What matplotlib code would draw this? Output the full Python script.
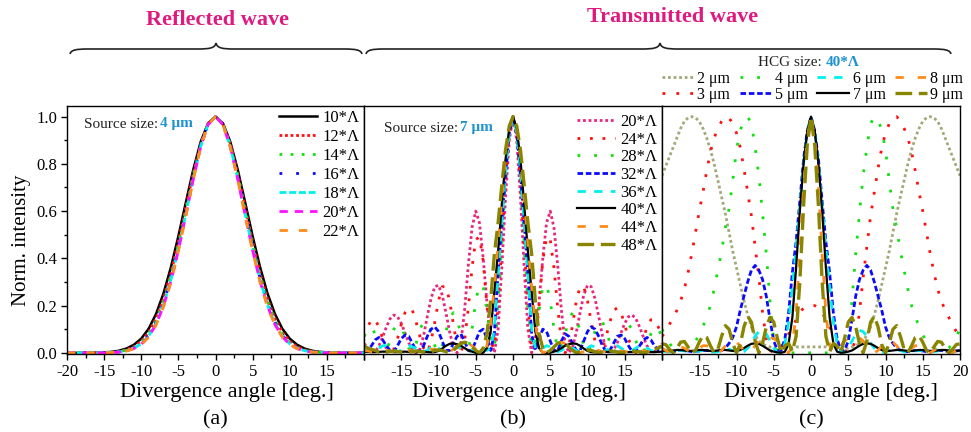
import matplotlib.pyplot as plt
import numpy as np
from matplotlib.path import Path
from matplotlib.patches import PathPatch
from matplotlib.ticker import MultipleLocator

plt.rcParams['font.family'] = ['Liberation Serif', 'DejaVu Serif']

# ---------------- data ----------------
# panel (a): reflected wave, source size 4 um, step 1 deg
angle_a = np.arange(-20, 21, 1)
a_10 = [0.0, 0.0, 0.0, 0.0, 0.001, 0.002, 0.004, 0.009, 0.018, 0.034, 0.06, 0.102, 0.165, 0.252, 0.363, 0.494, 0.636, 0.775, 0.893, 0.972,
        1.0, 0.972, 0.893, 0.775, 0.636, 0.494, 0.363, 0.252, 0.165, 0.102, 0.06, 0.034, 0.018, 0.009, 0.004, 0.002, 0.001, 0.0, 0.0, 0.0, 0.0]
a_12 = [0.0, 0.0, 0.0, 0.0, 0.0, 0.001, 0.003, 0.006, 0.013, 0.026, 0.049, 0.087, 0.146, 0.229, 0.338, 0.47, 0.615, 0.76, 0.885, 0.97,
        1.0, 0.97, 0.885, 0.76, 0.615, 0.47, 0.338, 0.229, 0.146, 0.087, 0.049, 0.026, 0.013, 0.006, 0.003, 0.001, 0.0, 0.0, 0.0, 0.0, 0.0]
a_14 = [0.0, 0.0, 0.0, 0.0, 0.0, 0.001, 0.002, 0.005, 0.011, 0.022, 0.043, 0.079, 0.135, 0.217, 0.325, 0.456, 0.602, 0.75, 0.88, 0.969,
        1.0, 0.969, 0.88, 0.75, 0.602, 0.456, 0.325, 0.217, 0.135, 0.079, 0.043, 0.022, 0.011, 0.005, 0.002, 0.001, 0.0, 0.0, 0.0, 0.0, 0.0]
a_16 = [0.0, 0.0, 0.0, 0.0, 0.0, 0.001, 0.002, 0.004, 0.009, 0.02, 0.04, 0.074, 0.129, 0.209, 0.316, 0.447, 0.594, 0.744, 0.877, 0.968,
        1.0, 0.968, 0.877, 0.744, 0.594, 0.447, 0.316, 0.209, 0.129, 0.074, 0.04, 0.02, 0.009, 0.004, 0.002, 0.001, 0.0, 0.0, 0.0, 0.0, 0.0]
a_18 = [0.0, 0.0, 0.0, 0.0, 0.0, 0.001, 0.002, 0.004, 0.009, 0.019, 0.038, 0.071, 0.124, 0.203, 0.309, 0.44, 0.587, 0.738, 0.874, 0.967,
        1.0, 0.967, 0.874, 0.738, 0.587, 0.44, 0.309, 0.203, 0.124, 0.071, 0.038, 0.019, 0.009, 0.004, 0.002, 0.001, 0.0, 0.0, 0.0, 0.0, 0.0]
a_20 = [0.0, 0.0, 0.0, 0.0, 0.0, 0.0, 0.001, 0.003, 0.008, 0.018, 0.036, 0.068, 0.12, 0.198, 0.303, 0.434, 0.582, 0.734, 0.872, 0.966,
        1.0, 0.966, 0.872, 0.734, 0.582, 0.434, 0.303, 0.198, 0.12, 0.068, 0.036, 0.018, 0.008, 0.003, 0.001, 0.0, 0.0, 0.0, 0.0, 0.0, 0.0]
a_22 = [0.0, 0.0, 0.0, 0.0, 0.0, 0.0, 0.001, 0.003, 0.008, 0.017, 0.035, 0.066, 0.118, 0.195, 0.299, 0.43, 0.578, 0.731, 0.87, 0.966,
        1.0, 0.966, 0.87, 0.731, 0.578, 0.43, 0.299, 0.195, 0.118, 0.066, 0.035, 0.017, 0.008, 0.003, 0.001, 0.0, 0.0, 0.0, 0.0, 0.0, 0.0]
labels_a = ['10*Λ', '12*Λ', '14*Λ', '16*Λ', '18*Λ', '20*Λ', '22*Λ']

# panels (b) and (c): step 0.5 deg
angle_bc = np.linspace(-20, 20, 81)

# panel (b): transmitted wave, source size 7 um, HCG sizes
b_20 = [0.04, 0.02, 0.005, 0.004, 0.029, 0.067, 0.109, 0.144, 0.16, 0.153, 0.125, 0.085, 0.043, 0.011, 0.0, 0.015, 0.073, 0.155, 0.23, 0.28,
        0.286, 0.245, 0.17, 0.087, 0.024, 0.0, 0.04, 0.18, 0.37, 0.53, 0.6, 0.55, 0.40, 0.215, 0.06, 0.0, 0.1, 0.36, 0.66, 0.9,
        1.0, 0.9, 0.66, 0.36, 0.1, 0.0, 0.06, 0.215, 0.40, 0.55, 0.6, 0.53, 0.37, 0.18, 0.04, 0.0, 0.024, 0.087, 0.17, 0.245,
        0.286, 0.28, 0.23, 0.155, 0.073, 0.015, 0.0, 0.011, 0.043, 0.085, 0.125, 0.153, 0.16, 0.144, 0.109, 0.067, 0.029, 0.004, 0.005, 0.02, 0.04]
b_24 = [0.07, 0.11, 0.14, 0.14, 0.11, 0.06, 0.02, 0.0, 0.015, 0.06, 0.12, 0.17, 0.19, 0.18, 0.13, 0.07, 0.02, 0.0, 0.05, 0.13,
        0.22, 0.28, 0.28, 0.22, 0.12, 0.03, 0.0, 0.05, 0.19, 0.36, 0.48, 0.49, 0.39, 0.2, 0.04, 0.02, 0.2, 0.46, 0.72, 0.92,
        1.0, 0.92, 0.72, 0.46, 0.2, 0.02, 0.04, 0.2, 0.39, 0.49, 0.48, 0.36, 0.19, 0.05, 0.0, 0.03, 0.12, 0.22, 0.28, 0.28,
        0.22, 0.13, 0.05, 0.0, 0.02, 0.07, 0.13, 0.18, 0.19, 0.17, 0.12, 0.06, 0.015, 0.0, 0.02, 0.06, 0.11, 0.14, 0.14, 0.11, 0.07]
b_28 = [0.07, 0.1, 0.11, 0.08, 0.04, 0.0, 0.01, 0.05, 0.1, 0.12, 0.11, 0.07, 0.02, 0.0, 0.04, 0.1, 0.13, 0.13, 0.09, 0.03,
        0.0, 0.03, 0.09, 0.15, 0.17, 0.14, 0.08, 0.02, 0.01, 0.1, 0.22, 0.29, 0.28, 0.18, 0.05, 0.02, 0.22, 0.48, 0.74, 0.93,
        1.0, 0.93, 0.74, 0.48, 0.22, 0.02, 0.05, 0.18, 0.28, 0.29, 0.22, 0.1, 0.01, 0.02, 0.08, 0.14, 0.17, 0.15, 0.09, 0.03,
        0.0, 0.03, 0.09, 0.13, 0.13, 0.1, 0.04, 0.0, 0.02, 0.07, 0.11, 0.12, 0.1, 0.05, 0.01, 0.0, 0.04, 0.08, 0.11, 0.1, 0.07]
b_32 = [0.005, 0.01, 0.03, 0.055, 0.065, 0.055, 0.03, 0.01, 0.005, 0.03, 0.06, 0.075, 0.07, 0.04, 0.01, 0.005, 0.03, 0.07, 0.1, 0.11,
        0.09, 0.05, 0.01, 0.01, 0.04, 0.07, 0.08, 0.05, 0.01, 0.01, 0.05, 0.09, 0.1, 0.06, 0.01, 0.08, 0.34, 0.55, 0.76, 0.93,
        1.0, 0.93, 0.76, 0.55, 0.34, 0.08, 0.01, 0.06, 0.1, 0.09, 0.05, 0.01, 0.01, 0.05, 0.08, 0.07, 0.04, 0.01, 0.01, 0.05,
        0.09, 0.11, 0.1, 0.07, 0.03, 0.005, 0.01, 0.04, 0.07, 0.075, 0.06, 0.03, 0.005, 0.01, 0.03, 0.055, 0.065, 0.055, 0.03, 0.01, 0.005]
b_36 = [0.02, 0.01, 0.005, 0.01, 0.02, 0.03, 0.03, 0.02, 0.01, 0.005, 0.01, 0.02, 0.03, 0.025, 0.02, 0.01, 0.005, 0.01, 0.025, 0.03,
        0.02, 0.01, 0.005, 0.01, 0.02, 0.025, 0.02, 0.01, 0.005, 0.01, 0.025, 0.03, 0.02, 0.01, 0.02, 0.1, 0.33, 0.55, 0.77, 0.93,
        1.0, 0.93, 0.77, 0.55, 0.33, 0.1, 0.02, 0.01, 0.02, 0.03, 0.025, 0.01, 0.005, 0.01, 0.02, 0.025, 0.02, 0.01, 0.005, 0.01,
        0.02, 0.03, 0.025, 0.01, 0.005, 0.01, 0.02, 0.025, 0.03, 0.02, 0.01, 0.005, 0.01, 0.02, 0.03, 0.03, 0.02, 0.01, 0.005, 0.01, 0.02]
b_40 = [0.005, 0.004, 0.003, 0.003, 0.004, 0.005, 0.005, 0.004, 0.003, 0.003, 0.004, 0.005, 0.004, 0.003, 0.003, 0.004, 0.004, 0.003, 0.002, 0.003,
        0.008, 0.018, 0.03, 0.038, 0.04, 0.036, 0.03, 0.02, 0.01, 0.005, 0.0, 0.0, 0.0, 0.02, 0.09, 0.26, 0.43, 0.63, 0.82, 0.95,
        1.0, 0.95, 0.82, 0.63, 0.43, 0.26, 0.09, 0.02, 0.0, 0.0, 0.0, 0.005, 0.01, 0.02, 0.03, 0.036, 0.04, 0.038, 0.03, 0.018,
        0.008, 0.003, 0.002, 0.003, 0.004, 0.004, 0.003, 0.003, 0.004, 0.005, 0.004, 0.003, 0.003, 0.004, 0.005, 0.005, 0.004, 0.003, 0.003, 0.004, 0.005]
b_44 = [0.01, 0.008, 0.005, 0.003, 0.005, 0.008, 0.01, 0.008, 0.005, 0.003, 0.005, 0.008, 0.01, 0.008, 0.005, 0.003, 0.005, 0.01, 0.015, 0.015,
        0.01, 0.005, 0.0, 0.005, 0.015, 0.03, 0.04, 0.045, 0.04, 0.03, 0.015, 0.005, 0.0, 0.03, 0.12, 0.28, 0.46, 0.65, 0.83, 0.95,
        1.0, 0.95, 0.83, 0.65, 0.46, 0.28, 0.12, 0.03, 0.0, 0.005, 0.015, 0.03, 0.04, 0.045, 0.04, 0.03, 0.015, 0.005, 0.0, 0.005,
        0.01, 0.015, 0.015, 0.01, 0.005, 0.003, 0.005, 0.008, 0.01, 0.008, 0.005, 0.003, 0.005, 0.008, 0.01, 0.008, 0.005, 0.003, 0.005, 0.008, 0.01]
b_48 = [0.03, 0.02, 0.015, 0.01, 0.003, 0.0, 0.003, 0.006, 0.008, 0.006, 0.003, 0.0, 0.003, 0.006, 0.008, 0.006, 0.003, 0.0, 0.005, 0.01,
        0.012, 0.01, 0.005, 0.0, 0.01, 0.025, 0.04, 0.045, 0.04, 0.025, 0.01, 0.0, 0.02, 0.08, 0.22, 0.42, 0.55, 0.71, 0.86, 0.96,
        1.0, 0.96, 0.86, 0.71, 0.55, 0.42, 0.22, 0.08, 0.02, 0.0, 0.01, 0.025, 0.04, 0.045, 0.04, 0.025, 0.01, 0.0, 0.005, 0.01,
        0.012, 0.01, 0.005, 0.0, 0.003, 0.006, 0.008, 0.006, 0.003, 0.0, 0.003, 0.006, 0.008, 0.006, 0.003, 0.0, 0.003, 0.01, 0.015, 0.02, 0.03]
labels_b = ['20*Λ', '24*Λ', '28*Λ', '32*Λ', '36*Λ', '40*Λ', '44*Λ', '48*Λ']

# panel (c): HCG size 40*Λ, source sizes
c_2 = [0.75, 0.79, 0.83, 0.87, 0.91, 0.95, 0.98, 0.995, 1.0, 0.995, 0.98, 0.95, 0.91, 0.86, 0.8, 0.73, 0.66, 0.59, 0.51, 0.43,
       0.36, 0.29, 0.22, 0.16, 0.11, 0.075, 0.05, 0.038, 0.03, 0.025, 0.02, 0.017, 0.017, 0.018, 0.02, 0.022, 0.025, 0.025, 0.025, 0.025,
       0.025, 0.025, 0.025, 0.025, 0.025, 0.022, 0.02, 0.018, 0.017, 0.017, 0.02, 0.025, 0.03, 0.038, 0.05, 0.075, 0.11, 0.16, 0.22, 0.29,
       0.36, 0.43, 0.51, 0.59, 0.66, 0.73, 0.8, 0.86, 0.91, 0.95, 0.98, 0.995, 1.0, 0.995, 0.98, 0.95, 0.91, 0.87, 0.83, 0.79, 0.75]
c_3 = [0.07, 0.09, 0.12, 0.15, 0.18, 0.22, 0.27, 0.34, 0.42, 0.51, 0.6, 0.68, 0.77, 0.85, 0.91, 0.95, 0.98, 1.0, 0.995, 0.97,
       0.93, 0.87, 0.78, 0.68, 0.58, 0.45, 0.32, 0.17, 0.06, 0.01, 0.0, 0.01, 0.025, 0.05, 0.08, 0.11, 0.14, 0.17, 0.19, 0.2,
       0.2, 0.2, 0.19, 0.17, 0.14, 0.11, 0.08, 0.05, 0.025, 0.01, 0.0, 0.01, 0.06, 0.17, 0.32, 0.45, 0.58, 0.68, 0.78, 0.87,
       0.93, 0.97, 0.995, 1.0, 0.98, 0.95, 0.91, 0.85, 0.77, 0.68, 0.6, 0.51, 0.42, 0.34, 0.27, 0.22, 0.18, 0.15, 0.12, 0.09, 0.07]
c_4 = [0.1, 0.07, 0.04, 0.02, 0.01, 0.005, 0.01, 0.02, 0.03, 0.05, 0.075, 0.11, 0.155, 0.2, 0.27, 0.35, 0.43, 0.53, 0.61, 0.73,
       0.86, 0.94, 0.99, 1.0, 0.97, 0.87, 0.75, 0.59, 0.42, 0.22, 0.05, 0.01, 0.0, 0.0, 0.0, 0.0, 0.0, 0.0, 0.0, 0.0,
       0.0, 0.0, 0.0, 0.0, 0.0, 0.0, 0.0, 0.0, 0.0, 0.01, 0.05, 0.22, 0.42, 0.59, 0.75, 0.87, 0.97, 1.0, 0.99, 0.94,
       0.86, 0.73, 0.61, 0.53, 0.43, 0.35, 0.27, 0.2, 0.155, 0.11, 0.075, 0.05, 0.03, 0.02, 0.01, 0.005, 0.01, 0.02, 0.04, 0.07, 0.1]
c_5 = [0.01, 0.008, 0.005, 0.005, 0.008, 0.01, 0.01, 0.008, 0.005, 0.005, 0.008, 0.01, 0.01, 0.008, 0.005, 0.005, 0.01, 0.02, 0.04, 0.065,
       0.11, 0.18, 0.24, 0.3, 0.35, 0.37, 0.35, 0.31, 0.24, 0.14, 0.05, 0.01, 0.01, 0.06, 0.17, 0.34, 0.47, 0.64, 0.82, 0.94,
       1.0, 0.94, 0.82, 0.64, 0.47, 0.34, 0.17, 0.06, 0.01, 0.01, 0.05, 0.14, 0.24, 0.31, 0.35, 0.37, 0.35, 0.3, 0.24, 0.18,
       0.11, 0.065, 0.04, 0.02, 0.01, 0.005, 0.005, 0.008, 0.01, 0.01, 0.008, 0.005, 0.005, 0.008, 0.01, 0.01, 0.008, 0.005, 0.005, 0.008, 0.01]
c_6 = [0.008, 0.005, 0.003, 0.005, 0.008, 0.01, 0.008, 0.005, 0.003, 0.005, 0.008, 0.01, 0.008, 0.005, 0.003, 0.005, 0.01, 0.015, 0.015, 0.01,
       0.005, 0.0, 0.005, 0.02, 0.04, 0.07, 0.09, 0.095, 0.08, 0.05, 0.02, 0.0, 0.005, 0.04, 0.13, 0.28, 0.44, 0.62, 0.8, 0.94,
       1.0, 0.94, 0.8, 0.62, 0.44, 0.28, 0.13, 0.04, 0.005, 0.0, 0.02, 0.05, 0.08, 0.095, 0.09, 0.07, 0.04, 0.02, 0.005, 0.0,
       0.005, 0.01, 0.015, 0.015, 0.01, 0.005, 0.003, 0.005, 0.008, 0.01, 0.008, 0.005, 0.003, 0.005, 0.008, 0.01, 0.008, 0.005, 0.003, 0.005, 0.008]
c_7 = [0.01, 0.008, 0.008, 0.01, 0.012, 0.012, 0.01, 0.008, 0.008, 0.01, 0.012, 0.012, 0.01, 0.008, 0.008, 0.01, 0.012, 0.012, 0.01, 0.008,
       0.008, 0.012, 0.02, 0.03, 0.038, 0.04, 0.038, 0.03, 0.02, 0.01, 0.005, 0.002, 0.0, 0.005, 0.04, 0.15, 0.36, 0.6, 0.8, 0.94,
       1.0, 0.94, 0.8, 0.6, 0.36, 0.15, 0.04, 0.005, 0.0, 0.002, 0.005, 0.01, 0.02, 0.03, 0.038, 0.04, 0.038, 0.03, 0.02, 0.012,
       0.008, 0.008, 0.01, 0.012, 0.012, 0.01, 0.008, 0.008, 0.01, 0.012, 0.012, 0.01, 0.008, 0.008, 0.01, 0.012, 0.012, 0.01, 0.008, 0.008, 0.01]
c_8 = [0.02, 0.01, 0.0, 0.01, 0.02, 0.025, 0.02, 0.01, 0.0, 0.01, 0.02, 0.03, 0.03, 0.02, 0.01, 0.0, 0.01, 0.03, 0.045, 0.05,
       0.045, 0.03, 0.01, 0.0, 0.01, 0.03, 0.05, 0.065, 0.07, 0.065, 0.06, 0.05, 0.03, 0.01, 0.0, 0.03, 0.17, 0.42, 0.7, 0.91,
       1.0, 0.91, 0.7, 0.42, 0.17, 0.03, 0.0, 0.01, 0.03, 0.05, 0.06, 0.065, 0.07, 0.065, 0.05, 0.03, 0.01, 0.0, 0.01, 0.03,
       0.045, 0.05, 0.045, 0.03, 0.01, 0.0, 0.01, 0.02, 0.03, 0.03, 0.02, 0.01, 0.0, 0.01, 0.02, 0.025, 0.02, 0.01, 0.0, 0.01, 0.02]
c_9 = [0.038, 0.035, 0.015, 0.0, 0.02, 0.045, 0.048, 0.025, 0.0, 0.01, 0.045, 0.073, 0.065, 0.03, 0.0, 0.015, 0.07, 0.115, 0.1, 0.04,
       0.0, 0.035, 0.11, 0.155, 0.13, 0.05, 0.0, 0.04, 0.11, 0.15, 0.13, 0.06, 0.0, 0.03, 0.04, 0.005, 0.07, 0.3, 0.62, 0.88,
       1.0, 0.88, 0.62, 0.3, 0.07, 0.005, 0.04, 0.03, 0.0, 0.06, 0.13, 0.15, 0.11, 0.04, 0.0, 0.05, 0.13, 0.155, 0.11, 0.035,
       0.0, 0.04, 0.1, 0.115, 0.07, 0.015, 0.0, 0.03, 0.065, 0.073, 0.045, 0.01, 0.0, 0.025, 0.048, 0.045, 0.02, 0.0, 0.015, 0.035, 0.038]
labels_c = ['2 μm', '3 μm', '4 μm', '5 μm', '6 μm', '7 μm', '8 μm', '9 μm']

# ---------------- styles ----------------
RED, GREEN, BLUE, CYAN = '#ff1010', '#10e010', '#0a0aff', '#00f0f0'
ORANGE, OLIVE, BLACK = '#ff8c1a', '#8a8500', '#000000'
PINK, MAGENTA, KHAKI = '#e8267e', '#ff10ff', '#a3a878'
HEAD = '#e0197e'
ACCENT = '#1e92d0'

styles_a = [(BLACK, '-', 1.8), (RED, (0, (1, 1)), 2.0), (GREEN, (0, (1, 3)), 2.0),
            (BLUE, (0, (1, 5)), 2.0), (CYAN, (0, (2.5, 1)), 2.0),
            (MAGENTA, (0, (3, 2.5)), 2.0), (ORANGE, (0, (3, 4)), 2.0)]
styles_b = [(PINK, (0, (1, 1)), 2.0), (RED, (0, (1, 3.5)), 2.0), (GREEN, (0, (1, 5)), 2.0),
            (BLUE, (0, (2, 1)), 2.0), (CYAN, (0, (3, 3)), 2.0), (BLACK, '-', 1.6),
            (ORANGE, (0, (3, 5)), 2.0), (OLIVE, (0, (5, 2)), 2.4)]
styles_c = [(KHAKI, (0, (1, 1)), 2.0), (RED, (0, (1, 4)), 2.0), (GREEN, (0, (1, 5)), 2.0),
            (BLUE, (0, (2, 1)), 2.0), (CYAN, (0, (3, 3)), 2.0), (BLACK, '-', 1.6),
            (ORANGE, (0, (3, 5)), 2.0), (OLIVE, (0, (5, 2)), 2.4)]

W, H = 971, 432


def fx(px):
    return px / W


def fy(py):
    return 1 - py / H


fig = plt.figure(figsize=(W / 100, H / 100), dpi=100)

x_edges = [67, 364, 662, 960]
axes = []
for i in range(3):
    ax = fig.add_axes([fx(x_edges[i]), fy(354), fx(x_edges[i + 1]) - fx(x_edges[i]), fy(106) - fy(354)])
    axes.append(ax)
ax_a, ax_b, ax_c = axes


def plot_series(ax, x, series, labels, styles):
    for y, lab, (col, ls, lw) in zip(series, labels, styles):
        ax.plot(x, y, color=col, linestyle=ls, linewidth=lw, label=lab)


plot_series(ax_a, angle_a, [a_10, a_12, a_14, a_16, a_18, a_20, a_22], labels_a, styles_a)
plot_series(ax_b, angle_bc, [b_20, b_24, b_28, b_32, b_36, b_40, b_44, b_48], labels_b, styles_b)
plot_series(ax_c, angle_bc, [c_2, c_3, c_4, c_5, c_6, c_7, c_8, c_9], labels_c, styles_c)

major = np.arange(-20, 21, 5)
shown = [major[:-1], major[1:-1], major[1:]]
for ax, keep in zip(axes, shown):
    ax.set_xlim(-20, 20)
    ax.set_ylim(-0.005, 1.045)
    ax.set_xticks(major)
    ax.set_xticklabels([str(t) if t in keep else '' for t in major])
    ax.xaxis.set_minor_locator(MultipleLocator(2.5))
    ax.tick_params(axis='x', which='major', direction='out', length=4, width=1, labelsize=12, pad=3)
    ax.tick_params(axis='x', which='minor', direction='out', length=3, width=1)
    for sp in ax.spines.values():
        sp.set_linewidth(1.0)

ax_a.yaxis.set_major_locator(MultipleLocator(0.2))
ax_a.yaxis.set_minor_locator(MultipleLocator(0.1))
ax_a.yaxis.set_major_formatter(plt.FormatStrFormatter('%.1f'))
ax_a.tick_params(axis='y', which='major', direction='out', length=4, width=1, labelsize=12, pad=3)
ax_a.tick_params(axis='y', which='minor', direction='out', length=2.5, width=1)
for ax in (ax_b, ax_c):
    ax.tick_params(axis='y', which='both', left=False, labelleft=False)

# legends
ax_a.legend(loc='upper right', bbox_to_anchor=(0.99, 0.99), frameon=False, fontsize=12,
            handlelength=2.3, handletextpad=0.3, labelspacing=0.18, borderaxespad=0, borderpad=0.1)
ax_b.legend(loc='upper right', bbox_to_anchor=(0.99, 0.975), frameon=False, fontsize=12,
            handlelength=2.3, handletextpad=0.3, labelspacing=0.1, borderaxespad=0, borderpad=0.1)
fig.legend(*ax_c.get_legend_handles_labels(), loc='upper left', bbox_to_anchor=(fx(662), fy(71)),
           ncol=4, frameon=False, fontsize=11.5, handlelength=2.0, handletextpad=0.2,
           columnspacing=0.6, labelspacing=0.0, borderaxespad=0, borderpad=0)

# in-panel annotations
fig.text(fx(158), fy(124), 'Source size:', ha='right', va='center', fontsize=11, color='#222222')
fig.text(fx(160), fy(124), '4 μm', ha='left', va='center', fontsize=11, color=ACCENT, weight='bold')
fig.text(fx(458), fy(128), 'Source size:', ha='right', va='center', fontsize=11, color='#222222')
fig.text(fx(460), fy(128), '7 μm', ha='left', va='center', fontsize=11, color=ACCENT, weight='bold')
fig.text(fx(826), fy(62), 'HCG size: ', ha='right', va='center', fontsize=11, color='#222222')
fig.text(fx(826), fy(62), '40*Λ', ha='left', va='center', fontsize=11, color=ACCENT, weight='bold')

# axis labels and panel tags
for cx in [227, 519, 831]:
    fig.text(fx(cx), fy(392), 'Divergence angle [deg.]', ha='center', va='center', fontsize=16)
for cx, tag in zip([215, 513, 811], ['(a)', '(b)', '(c)']):
    fig.text(fx(cx), fy(420), tag, ha='center', va='center', fontsize=16)
fig.text(fx(22), fy(240), 'Norm. intensity', ha='center', va='center', rotation=90, fontsize=15)

# headings and braces
fig.text(fx(217), fy(20), 'Reflected wave', ha='center', va='center', fontsize=16, weight='bold', color=HEAD)
fig.text(fx(673), fy(17), 'Transmitted wave', ha='center', va='center', fontsize=16, weight='bold', color=HEAD)


def brace(x0, x1, xm, y_end, y_body, y_tip):
    pts = [(x0, y_end),
           (x0 + 1, y_body + 1), (x0 + 6, y_body), (x0 + 18, y_body),
           (xm - 18, y_body),
           (xm - 6, y_body), (xm - 1, y_body - 1), (xm, y_tip),
           (xm + 1, y_body - 1), (xm + 6, y_body), (xm + 18, y_body),
           (x1 - 18, y_body),
           (x1 - 6, y_body), (x1 - 1, y_body + 1), (x1, y_end)]
    codes = [Path.MOVETO] + [Path.CURVE4] * 3 + [Path.LINETO] + [Path.CURVE4] * 6 + [Path.LINETO] + [Path.CURVE4] * 3
    verts = [(fx(px), fy(py)) for px, py in pts]
    fig.add_artist(PathPatch(Path(verts, codes), transform=fig.transFigure,
                             fill=False, lw=1.2, color='#222222'))


brace(70, 362, 216, 54, 49, 43)
brace(366, 951, 660, 54, 49, 43)

fig.savefig('out.png', dpi=100)
